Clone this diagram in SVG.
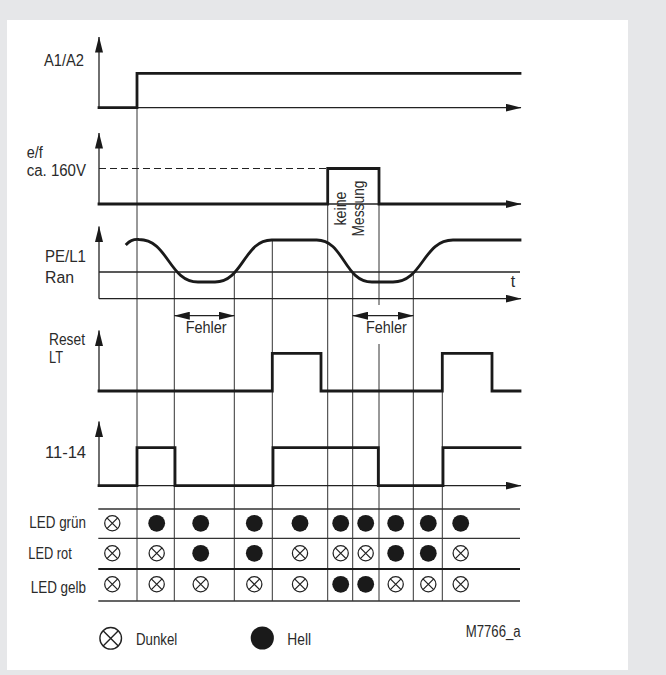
<svg xmlns="http://www.w3.org/2000/svg" xmlns:xlink="http://www.w3.org/1999/xlink" width="666" height="675" viewBox="0 0 666 675">
<style>
text{font-family:"Liberation Sans",Arial,sans-serif;font-size:16px;fill:#2a2a2a}
.ax{stroke:#222;stroke-width:1.3;fill:none}
.sig{stroke:#1a1a1a;stroke-width:2.8;fill:none;stroke-linejoin:miter;stroke-linecap:square}
.grid{stroke:#333;stroke-width:1;fill:none}
.tb{stroke:#333;stroke-width:1.3;fill:none}
</style>
<defs>
<marker id="ah" viewBox="0 0 16 8" markerWidth="16" markerHeight="8" refX="15.5" refY="4" orient="auto-start-reverse" markerUnits="userSpaceOnUse">
<path d="M0,0 L16,4 L0,8 z" fill="#1a1a1a"/>
</marker>
<g id="off"><circle r="7.6" fill="#fff" stroke="#222" stroke-width="1.25"/><path d="M-5.37,-5.37 L5.37,5.37 M-5.37,5.37 L5.37,-5.37" stroke="#222" stroke-width="1.25"/></g>
<circle id="on" r="8.4" fill="#1a1a1a"/>
</defs>
<rect x="0" y="0" width="666" height="675" fill="#e6e7e9"/>
<rect x="7" y="20" width="621" height="650" fill="#fff"/>

<g id="connectors">
<path class="grid" d="M137,73 V601 M174.3,272 V601 M234.3,272 V601 M272.3,240 V601 M327.7,168.5 V601 M352.7,272 V601 M379,168.5 V305 M379,344 V601 M413.3,272 V601 M442.3,353.3 V601"/>
</g>

<g id="sig-a1a2">
<text x="44" y="65.7" textLength="40" lengthAdjust="spacingAndGlyphs">A1/A2</text>
<line class="ax" x1="99" y1="107.7" x2="99" y2="37" marker-end="url(#ah)"/>
<line class="ax" x1="99" y1="107.7" x2="521" y2="107.7" marker-end="url(#ah)"/>
<path class="sig" d="M99,107.7 H137 V73.3 H520"/>
</g>

<g id="sig-ef">
<text x="26.7" y="158.3" textLength="16" lengthAdjust="spacingAndGlyphs">e/f</text>
<text x="26.7" y="175.7" textLength="59.3" lengthAdjust="spacingAndGlyphs">ca. 160V</text>
<line class="ax" x1="99" y1="204" x2="99" y2="133" marker-end="url(#ah)"/>
<line x1="99" y1="168.5" x2="327.7" y2="168.5" stroke="#222" stroke-width="1.2" stroke-dasharray="7,4"/>
<line class="ax" x1="99" y1="204" x2="521" y2="204" marker-end="url(#ah)"/>
<path class="sig" d="M99,204 H327.7 V168.5 H379 V204 H508"/>
<text transform="translate(346,208.5) rotate(-90)" text-anchor="middle" textLength="34" lengthAdjust="spacingAndGlyphs">keine</text>
<text transform="translate(364,208.5) rotate(-90)" text-anchor="middle" textLength="56" lengthAdjust="spacingAndGlyphs">Messung</text>
</g>

<g id="sig-pel1">
<text x="45" y="261.7" textLength="41" lengthAdjust="spacingAndGlyphs">PE/L1</text>
<text x="45" y="283.3" textLength="29" lengthAdjust="spacingAndGlyphs">Ran</text>
<line class="ax" x1="99" y1="298.7" x2="99" y2="226.5" marker-end="url(#ah)"/>
<line class="ax" x1="99" y1="298.7" x2="521" y2="298.7" marker-end="url(#ah)"/>
<line class="ax" x1="99" y1="272" x2="520" y2="272"/>
<text x="510.7" y="286.7">t</text>
<path class="sig" stroke-linecap="butt" d="M126.7,244 C130,240.5 134,239 139,239.5 C168,239.5 169,282 198,282 L215,282 C243,282 244,240 271.7,240 L316.7,240 C344,240 344,282 372,282 L393,282 C423,282 423,240 453,240 L520,240"/>
</g>

<g id="fehler">
<line class="ax" x1="174.3" y1="315.7" x2="234.3" y2="315.7" marker-start="url(#ah)" marker-end="url(#ah)"/>
<text x="185.7" y="333.3" textLength="41" lengthAdjust="spacingAndGlyphs">Fehler</text>
<line class="ax" x1="352.7" y1="315.7" x2="413.3" y2="315.7" marker-start="url(#ah)" marker-end="url(#ah)"/>
<text x="366" y="333.3" textLength="40.7" lengthAdjust="spacingAndGlyphs">Fehler</text>
</g>

<g id="sig-reset">
<text x="49" y="345" textLength="36" lengthAdjust="spacingAndGlyphs">Reset</text>
<text x="49" y="363.3" textLength="14" lengthAdjust="spacingAndGlyphs">LT</text>
<line class="ax" x1="99" y1="391" x2="99" y2="330.5" marker-end="url(#ah)"/>
<path class="sig" d="M99,391 H272.3 V353.3 H321 V391 H442.3 V353.3 H492 V391 H520"/>
</g>

<g id="sig-1114">
<text x="45" y="458.3" textLength="41" lengthAdjust="spacingAndGlyphs">11-14</text>
<line class="ax" x1="99" y1="485.7" x2="99" y2="421.5" marker-end="url(#ah)"/>
<line class="ax" x1="99" y1="485.7" x2="521" y2="485.7" marker-end="url(#ah)"/>
<path class="sig" d="M99,485.7 H137 V447.7 H175 V485.7 H273 V447.7 H378.3 V485.7 H443 V447.7 H520"/>
</g>

<g id="led-table">
<path class="tb" d="M98.3,509 H520 M98.3,538.3 H520 M98.3,601 H520"/>
<path d="M98.3,569 H520" stroke="#1a1a1a" stroke-width="2"/>
<text x="29.3" y="528.3" textLength="56.7" lengthAdjust="spacingAndGlyphs">LED grün</text>
<text x="28.3" y="559.3" textLength="43.4" lengthAdjust="spacingAndGlyphs">LED rot</text>
<text x="30.7" y="592.7" textLength="55.3" lengthAdjust="spacingAndGlyphs">LED gelb</text>
<g id="row-gruen">
<use href="#off" x="112.3" y="523.3"/><use href="#on" x="156.7" y="523.3"/><use href="#on" x="200.7" y="523.3"/><use href="#on" x="254.3" y="523.3"/><use href="#on" x="300" y="523.3"/><use href="#on" x="340.7" y="523.3"/><use href="#on" x="365.7" y="523.3"/><use href="#on" x="395.7" y="523.3"/><use href="#on" x="428.3" y="523.3"/><use href="#on" x="460.7" y="523.3"/>
</g>
<g id="row-rot">
<use href="#off" x="112.3" y="553.3"/><use href="#off" x="156.7" y="553.3"/><use href="#on" x="200.7" y="553.3"/><use href="#on" x="254.3" y="553.3"/><use href="#off" x="300" y="553.3"/><use href="#off" x="340.7" y="553.3"/><use href="#off" x="365.7" y="553.3"/><use href="#on" x="395.7" y="553.3"/><use href="#on" x="428.3" y="553.3"/><use href="#off" x="460.7" y="553.3"/>
</g>
<g id="row-gelb">
<use href="#off" x="112.3" y="584.3"/><use href="#off" x="156.7" y="584.3"/><use href="#off" x="200.7" y="584.3"/><use href="#off" x="254.3" y="584.3"/><use href="#off" x="300" y="584.3"/><use href="#on" x="340.7" y="584.3"/><use href="#on" x="365.7" y="584.3"/><use href="#off" x="395.7" y="584.3"/><use href="#off" x="428.3" y="584.3"/><use href="#off" x="460.7" y="584.3"/>
</g>
</g>

<g id="legend">
<circle cx="110.7" cy="638.3" r="10.8" fill="none" stroke="#222" stroke-width="1.4"/>
<path d="M103.1,630.7 L118.3,645.9 M103.1,645.9 L118.3,630.7" stroke="#222" stroke-width="1.4"/>
<text x="136" y="645" textLength="41.3" lengthAdjust="spacingAndGlyphs">Dunkel</text>
<circle cx="262.3" cy="638" r="11.6" fill="#1a1a1a"/>
<text x="287.3" y="645.3" textLength="23.7" lengthAdjust="spacingAndGlyphs">Hell</text>
<text x="465.7" y="637.3" textLength="55" lengthAdjust="spacingAndGlyphs">M7766_a</text>
</g>
</svg>
